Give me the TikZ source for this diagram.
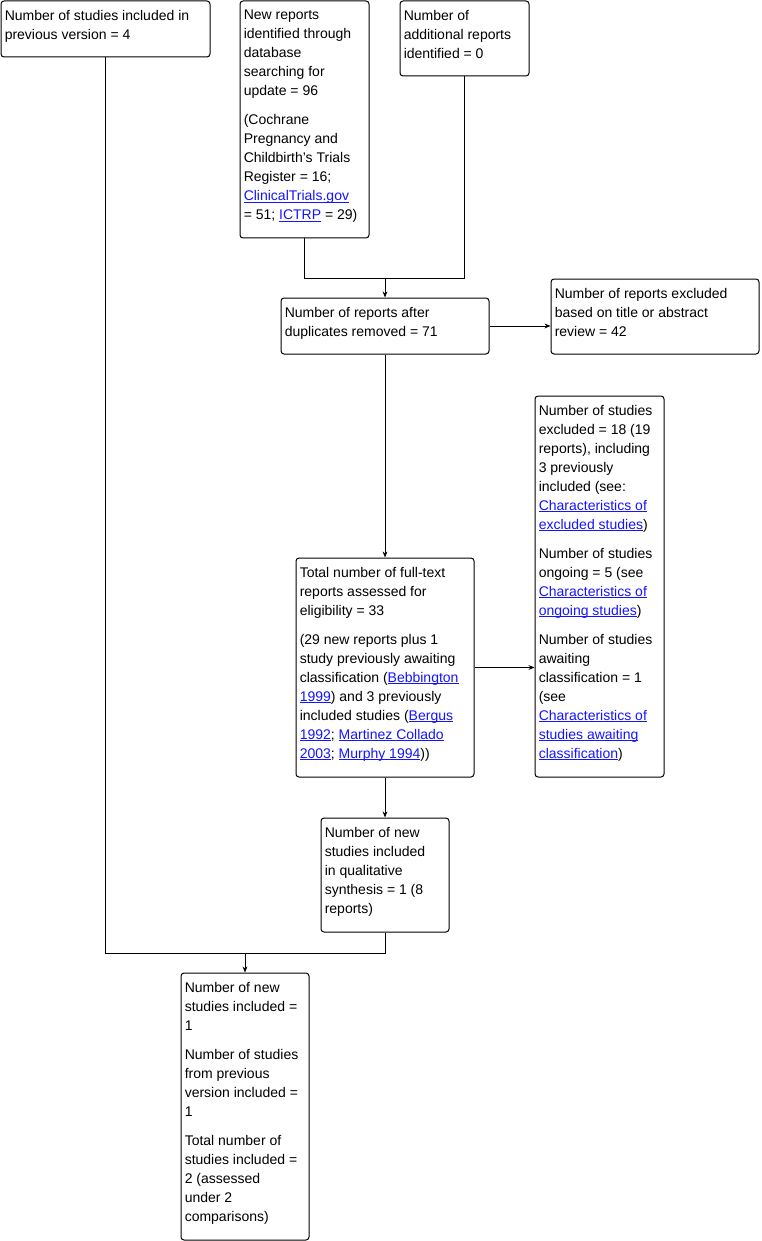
\documentclass[tikz,border=0pt]{standalone}
\usepackage{fontspec}
\setmainfont{Liberation Sans}
\usepackage{xcolor}
\usepackage{tikz}
\usetikzlibrary{arrows.meta,positioning,fit,calc}
\definecolor{linkblue}{RGB}{20,20,255}
\newsavebox{\lnkbox}
\newcommand{\lnk}[1]{\textcolor{linkblue}{\sbox{\lnkbox}{#1}\rlap{\rule[-1.6pt]{\wd\lnkbox}{0.7pt}}\usebox{\lnkbox}}}

\begin{document}
\begin{tikzpicture}[
    x=0.75pt, y=-0.75pt,
    box/.style={draw, line width=0.75pt, rounded corners=2.25pt, inner sep=0pt},
    txt/.style={anchor=north west, inner xsep=3pt, inner ysep=7pt, align=left,
        font=\fontsize{10.5}{14.25}\selectfont},
    arrow/.style={-{Stealth[length=4.5pt,width=3.6pt]}, line width=0.75pt},
    line/.style={line width=0.75pt}
]
    \useasboundingbox (0,0) rectangle (762,1241);

    % Boxes
    \node[box, fit={(1,1) (210,57)}] (prev) {};
    \node[box, fit={(240,1) (369,238)}] (new) {};
    \node[box, fit={(400,1) (529,76)}] (add) {};
    \node[box, fit={(281,298) (489,354)}] (dup) {};
    \node[box, fit={(551,279) (759,354)}] (screen) {};
    \node[box, fit={(535,396) (664,777)}] (excl) {};
    \node[box, fit={(296,558) (474,777)}] (full) {};
    \node[box, fit={(321,818) (449,932)}] (qual) {};
    \node[box, fit={(181,973) (309,1240)}] (incl) {};

    % Texts
    \node[txt] at (prev.north west) {Number of studies included in\\previous version = 4};
    \node[txt] at (new.north west) {New reports\\identified through\\database\\searching for\\update = 96\\[7.5pt]
        (Cochrane\\Pregnancy and\\Childbirth’s Trials\\Register = 16;\\\lnk{ClinicalTrials.gov}\\= 51; \lnk{ICTRP} = 29)};
    \node[txt] at (add.north west) {Number of\\additional reports\\identified = 0};
    \node[txt] at (dup.north west) {Number of reports after\\duplicates removed = 71};
    \node[txt] at (screen.north west) {Number of reports excluded\\based on title or abstract\\review = 42};
    \node[txt] at (excl.north west) {Number of studies\\excluded = 18 (19\\reports), including\\3 previously\\included (see:\\\lnk{Characteristics of}\\\lnk{excluded studies})\\[7.5pt]
        Number of studies\\ongoing = 5 (see\\\lnk{Characteristics of}\\\lnk{ongoing studies})\\[7.5pt]
        Number of studies\\awaiting\\classification = 1\\(see\\\lnk{Characteristics of}\\\lnk{studies awaiting}\\\lnk{classification})};
    \node[txt] at (full.north west) {Total number of full-text\\reports assessed for\\eligibility = 33\\[7.5pt]
        (29 new reports plus 1\\study previously awaiting\\classification (\lnk{Bebbington}\\\lnk{1999}) and 3 previously\\included studies (\lnk{Bergus}\\\lnk{1992}; \lnk{Martinez Collado}\\\lnk{2003}; \lnk{Murphy 1994}))};
    \node[txt] at (qual.north west) {Number of new\\studies included\\in qualitative\\synthesis = 1 (8\\reports)};
    \node[txt] at (incl.north west) {Number of new\\studies included =\\1\\[7.5pt]
        Number of studies\\from previous\\version included =\\1\\[7.5pt]
        Total number of\\studies included =\\2 (assessed\\under 2\\comparisons)};

    % Connectors
    \coordinate (join1) at (385,278);
    \coordinate (join2) at (245,953);
    \draw[line] (new.south) |- (join1);
    \draw[line] (add.south) |- (join1);
    \draw[arrow] (join1) -- (dup.north);
    \draw[arrow] (dup.east) -- (dup.east -| screen.west);
    \draw[arrow] (dup.south) -- (full.north);
    \draw[arrow] (full.east) -- (full.east -| excl.west);
    \draw[arrow] (full.south) -- (qual.north);
    \draw[line] (prev.south) |- (join2);
    \draw[line] (qual.south) |- (join2);
    \draw[arrow] (join2) -- (incl.north);
\end{tikzpicture}
\end{document}
